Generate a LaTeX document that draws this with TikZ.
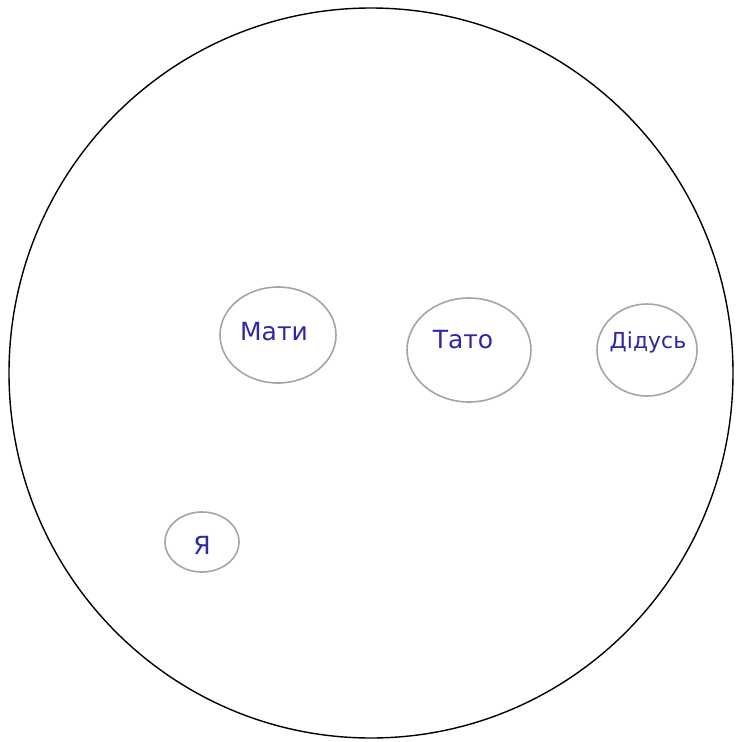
\documentclass[tikz,border=0pt]{standalone}
\usepackage{fontspec}
\setmainfont{DejaVu Sans}
\usetikzlibrary{shapes.geometric}
\definecolor{inkblue}{RGB}{45,40,165}
\definecolor{pencil}{RGB}{165,165,165}
\tikzset{
  person/.style={ellipse, draw=pencil, line width=1.6pt, inner sep=0pt},
  nametext/.style={text=inkblue, inner sep=0pt, font=\fontsize{25}{28}\selectfont},
  outer/.style={ellipse, draw=black, line width=1.4pt, inner sep=0pt}
}
\begin{document}
\begin{tikzpicture}[x=1pt,y=-1pt]
\useasboundingbox (0,0) rectangle (739,742);
\fill[white] (0,0) rectangle (739,742);
\node[outer, minimum width=724pt, minimum height=730pt] (world) at (371,373) {};
\node[person, minimum width=116pt, minimum height=96pt] (mati) at (278,335) {};
\node[person, minimum width=124pt, minimum height=104pt] (tato) at (469,350) {};
\node[person, minimum width=100pt, minimum height=92pt] (didus) at (647,350) {};
\node[person, minimum width=74pt, minimum height=60pt] (ya) at (202,542) {};
\node[nametext] (mati-t) at (274,332) {Мати};
\node[nametext] (tato-t) at (463,340) {Тато};
\node[nametext, font=\fontsize{22}{26}\selectfont] (didus-t) at (648,342) {Дідусь};
\node[nametext] (ya-t) at (202,545) {Я};
\end{tikzpicture}
\end{document}
